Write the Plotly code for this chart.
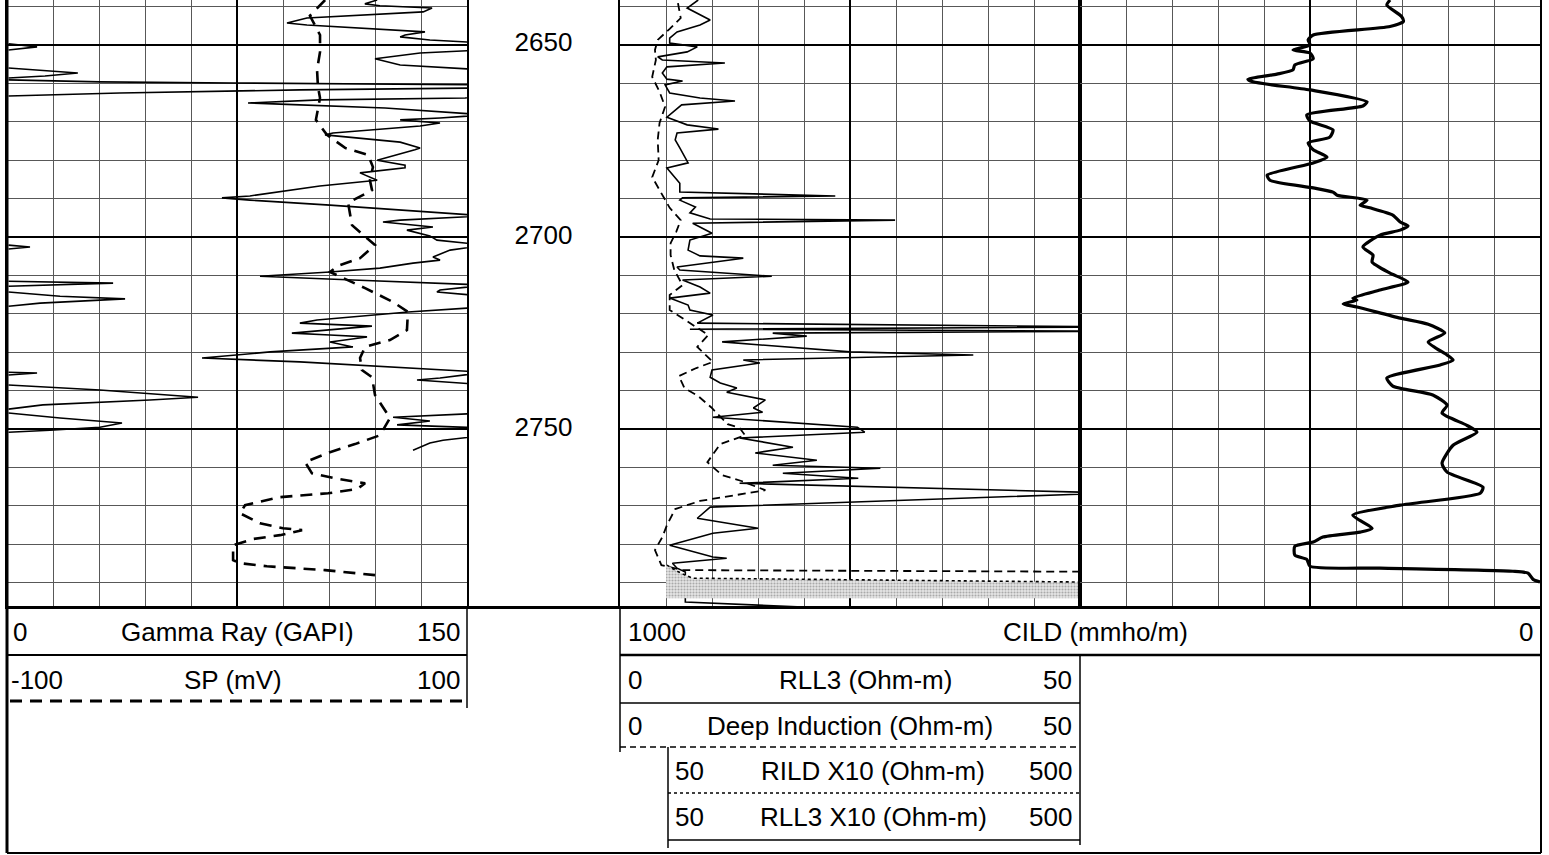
import plotly.graph_objects as go

W, H = 1549, 855


def px(x):
    return x / W


def py(y):
    return 1 - y / H


# ---------------- data (depth in ft, values in curve units) ----------------
depth_labels = [2650, 2700, 2750]

gr_depth = [2638.3, 2639.3, 2639.8, 2640.4, 2641.4, 2643.0, 2644.3, 2644.8, 2646.6, 2647.4,
            2647.9, 2648.7, 2649.5, 2651.3, 2652.1, 2653.6, 2655.2, 2656.5, 2663.0, 2663.8,
            2664.3, 2665.1, 2665.4, 2666.4, 2668.2, 2669.0, 2669.5, 2670.3, 2671.1, 2672.9,
            2673.4, 2675.3, 2676.8, 2677.3, 2680.0, 2681.3, 2682.0, 2683.3, 2685.2, 2686.7,
            2689.3, 2689.8, 2690.4, 2691.7, 2694.5, 2695.6, 2696.1, 2697.4, 2698.2, 2699.7,
            2700.8, 2702.1, 2703.4, 2705.2, 2706.0, 2706.8, 2708.1, 2709.1, 2710.2, 2710.7,
            2711.2, 2712.5, 2713.8, 2714.3, 2715.4, 2718.2, 2719.5, 2721.6, 2722.4, 2723.2,
            2724.2, 2725.0, 2725.5, 2726.0, 2727.3, 2728.6, 2729.9, 2731.5, 2732.5, 2735.2,
            2736.7, 2737.2, 2738.0, 2738.5, 2745.8, 2746.9, 2747.9, 2748.9, 2749.7, 2751.6,
            2752.9, 2753.6, 2755.5]
gr_value = [120.7, 116.7, 121.6, 138.6, 135.7, 97.8, 91.3, 97.8, 136.3, 129.8,
            128.2, 137.9, 156, 156, 134.7, 120.0, 128.2, 156, 156, 149.4,
            102.0, 78.6, 89.0, 123.3, 156, 141.2, 128.2, 141.2, 134.7, 106.3,
            103.7, 128.2, 134.7, 133.0, 120.7, 129.8, 129.8, 115.1, 120.7, 102.0,
            79.2, 70.1, 79.2, 105.3, 156, 128.2, 122.6, 138.9, 130.4, 137.9,
            140.2, 156, 144.5, 138.9, 141.2, 132.4, 121.6, 105.3, 82.5, 95.5,
            112.8, 156, 141.2, 140.2, 156, 156, 130.8, 101.1, 95.5, 119.0,
            105.3, 92.9, 105.3, 117.4, 105.3, 112.8, 85.8, 63.6, 95.5, 156,
            141.2, 133.7, 147.7, 156, 156, 125.9, 137.9, 127.2, 156, 156,
            142.2, 137.9, 132.4]

# Gamma ray backup (wrapped) segments
grw_depth = [2649.7, 2650.5, 2651.3, None,
             2656.0, 2656.8, 2657.3, 2658.1, 2658.6, None,
             2659.1, 2659.6, 2659.9, 2660.4, 2661.2, 2661.7, 2662.5, 2663.3, None,
             2702.1, 2702.6, 2703.1, None,
             2711.5, 2712.0, 2712.8, None,
             2714.3, 2715.4, 2716.1, 2717.2, 2718.0, None,
             2735.2, 2735.4, 2735.9, None,
             2738.5, 2739.8, 2741.7, 2742.4, 2743.7, 2744.8, None,
             2745.8, 2747.1, 2748.4, 2749.5, 2750.3, 2750.8]
grw_value = [0.5, 9.8, 0.5, None,
             0.5, 14.0, 23.1, 12.4, 0.5, None,
             0.5, 30.3, 73.7, 156, 156, 95.5, 36.8, 0.5, None,
             0.5, 7.5, 0.5, None,
             0.5, 34.6, 0.5, None,
             0.5, 17.3, 38.5, 10.8, 0.5, None,
             0.5, 9.8, 0.5, None,
             0.5, 30.3, 62.3, 46.6, 11.7, 0.5, None,
             0.5, 17.3, 37.5, 30.3, 14.0, 0.5]

sp_depth = [2638.3, 2642.4, 2647.4, 2651.8, 2656.5, 2660.9, 2663.8, 2669.5, 2673.4, 2676.8,
            2678.6, 2681.8, 2685.2, 2687.8, 2691.1, 2696.9, 2702.1, 2705.5, 2707.5, 2709.1,
            2713.3, 2715.9, 2716.9, 2719.5, 2724.2, 2726.8, 2728.6, 2731.5, 2734.6, 2736.5,
            2741.1, 2747.1, 2751.6, 2753.9, 2756.0, 2758.6, 2761.5, 2762.8, 2764.1, 2765.6,
            2766.7, 2767.7, 2769.8, 2771.9, 2774.5, 2775.8, 2776.3, 2777.6, 2778.6, 2780.2,
            2784.1, 2784.9, 2785.7, 2786.7, 2788.0]
sp_value = [38.3, 31.7, 36.1, 36.1, 34.8, 35.2, 36.1, 34.3, 39.1, 47.0,
            57.0, 59.1, 57.8, 58.7, 48.3, 50.0, 60.0, 53.5, 43.9, 40.4,
            55.7, 64.3, 67.8, 74.3, 73.9, 66.5, 55.7, 53.5, 54.3, 58.7,
            60.0, 66.5, 62.2, 51.3, 40.4, 29.6, 32.6, 42.6, 55.7, 52.2,
            39.6, 18.7, 3.5, 1.3, 10.0, 20.0, 28.3, 18.7, 7.0, -1.7,
            -1.7, 1.3, 13.0, 38.3, 60.0]

rll3_depth = [2638.3, 2640.4, 2643.5, 2644.8, 2646.6, 2648.2, 2649.5, 2650.5, 2651.8, 2653.1,
              2653.9, 2654.7, 2655.7, 2657.3, 2658.9, 2659.4, 2660.4, 2662.5, 2663.8, 2664.6,
              2665.6, 2668.8, 2670.8, 2671.9, 2672.9, 2674.7, 2676.8, 2680.7, 2682.0, 2686.0,
              2688.3, 2689.3, 2689.8, 2690.4, 2692.2, 2693.7, 2695.3, 2695.6, 2696.4, 2699.0,
              2700.8, 2703.4, 2704.9, 2705.5, 2707.8, 2708.6, 2710.2, 2711.2, 2713.0, 2714.6,
              2715.9, 2717.7, 2719.0, 2720.3, 2722.4, 2723.4, 2724.0, 2724.5, 2725.0, 2725.8,
              2727.3, 2729.9, 2730.7, 2732.0, 2732.8, 2734.6, 2736.5, 2738.0, 2739.3, 2740.4,
              2742.4, 2744.5, 2745.6, 2746.9, 2749.5, 2750.8, 2752.3, 2754.7, 2756.2, 2758.1,
              2759.4, 2760.2, 2761.5, 2762.8, 2764.1, 2766.7, 2767.0, 2770.3, 2773.2, 2775.8,
              2777.1, 2780.2, 2783.3, 2783.6, 2784.9, 2786.2, 2787.2, 2795.0, 2796.3]
rll3_value = [8.5, 7.3, 9.8, 8.7, 6.2, 5.4, 5.4, 8.4, 7.3, 4.1,
              4.6, 11.4, 5.1, 4.6, 5.1, 6.8, 4.9, 5.4, 8.7, 12.5,
              6.7, 5.1, 7.3, 10.7, 6.2, 6.0, 6.5, 7.4, 5.1, 6.5,
              6.5, 23.4, 6.8, 6.5, 8.2, 7.6, 9.8, 29.9, 7.9, 10.0,
              7.6, 7.4, 8.7, 13.4, 6.2, 6.5, 16.5, 6.8, 8.7, 9.8,
              5.4, 7.4, 7.6, 10.1, 8.4, 55, 7.6, 55, 16.6, 20.3,
              11.1, 25.0, 38.4, 13.4, 15.2, 10.0, 9.8, 10.9, 12.7, 11.6,
              15.8, 14.5, 15.5, 10.1, 25.8, 26.6, 13.0, 18.8, 14.7, 21.4,
              16.6, 28.3, 17.7, 25.9, 13.0, 55, 49.0, 9.8, 8.4, 15.0,
              10.1, 5.4, 10.1, 11.6, 5.7, 6.2, 7.1, 7.1, 19.9]

ild_depth = [2639.1, 2643.0, 2645.8, 2648.7, 2651.3, 2653.9, 2658.3, 2662.2, 2666.1, 2670.3,
             2674.7, 2680.0, 2684.4, 2689.3, 2692.4, 2695.6, 2698.7, 2701.6, 2704.7, 2708.6,
             2712.5, 2715.1, 2719.0, 2721.6, 2725.5, 2728.6, 2732.5, 2734.1, 2736.2, 2739.3,
             2741.4, 2744.3, 2748.7, 2749.7, 2751.6, 2753.9, 2758.6, 2762.0, 2763.5, 2765.9,
             2767.2, 2768.7, 2770.8, 2775.0, 2778.1, 2781.5, 2785.4, 2786.7, 2787.2, 2794.5]
ild_value = [6.3, 6.6, 5.4, 4.1, 3.8, 3.9, 3.5, 4.3, 4.9, 4.3,
             4.1, 4.2, 3.5, 4.7, 5.4, 6.6, 6.1, 5.5, 5.5, 5.9,
             6.8, 5.4, 5.4, 7.1, 9.6, 8.4, 10.1, 8.3, 6.4, 7.0,
             8.5, 9.9, 11.7, 13.0, 13.6, 10.9, 9.5, 11.1, 13.2, 15.8,
             12.7, 8.7, 6.0, 5.1, 4.6, 3.8, 4.5, 6.8, 60, 60]

rildx10_depth = [2785.4, 2786.7, 2788.0, 2788.8, 2789.8, 2790.0, 2794.0]
rildx10_value = [51, 60, 70.7, 79.3, 500, 560, 560]
x10_base_depth = [2785.4, 2794.0]
x10_base_value = [50, 50]

cild_depth = [2638.3, 2639.6, 2642.6, 2643.9, 2645.2, 2647.4, 2648.7, 2650.0, 2651.3, 2652.1,
              2653.6, 2655.2, 2656.5, 2657.6, 2658.9, 2659.6, 2661.7, 2664.8, 2665.9, 2668.2,
              2669.8, 2672.1, 2674.0, 2675.5, 2677.3, 2679.2, 2680.7, 2683.9, 2685.2, 2687.2,
              2688.3, 2689.1, 2690.4, 2691.7, 2692.4, 2694.3, 2696.1, 2697.1, 2698.2, 2699.5,
              2702.6, 2704.7, 2706.5, 2709.4, 2711.7, 2713.8, 2715.9, 2716.4, 2717.4, 2718.2,
              2721.1, 2722.7, 2725.0, 2727.3, 2730.7, 2732.0, 2733.3, 2736.7, 2738.8, 2741.1,
              2743.75, 2745.8, 2749.0, 2750.8, 2754.2, 2758.9, 2761.2, 2765.1, 2766.7, 2769.8,
              2772.4, 2775.8, 2776.8, 2778.1, 2779.4, 2780.5, 2782.8, 2783.9, 2785.7, 2786.2,
              2787.0, 2787.5, 2789.1, 2789.8]
cild_value = [326, 333, 301, 297, 326, 493, 504, 500, 537, 500,
              493, 533, 537, 572, 635, 624, 500, 376, 385, 507,
              500, 450, 457, 504, 493, 463, 493, 593, 587, 493,
              450, 441, 376, 391, 370, 320, 304, 287, 304, 348,
              385, 363, 365, 326, 287, 348, 407, 398, 428, 398,
              304, 243, 207, 243, 202, 189, 217, 333, 320, 233,
              202, 213, 159, 137, 189, 213, 202, 124, 130, 304,
              407, 365, 391, 472, 493, 533, 533, 507, 500, 348,
              59, 26, 15, 0]

# ---------------- figure ----------------
FONT = "Liberation Sans, Arial, sans-serif"
FS = 26
TOP_D, BOT_D = 2638.3, 2796.3
YDOM = [py(607), 1]
MINOR_GRID = "#585858"

fig = go.Figure()

fig.add_trace(go.Scatter(x=gr_value, y=gr_depth, xaxis="x", yaxis="y", mode="lines",
                         line=dict(color="black", width=1.6), hoverinfo="skip"))
fig.add_trace(go.Scatter(x=grw_value, y=grw_depth, xaxis="x", yaxis="y", mode="lines",
                         connectgaps=False, line=dict(color="black", width=1.6), hoverinfo="skip"))
fig.add_trace(go.Scatter(x=sp_value, y=sp_depth, xaxis="x2", yaxis="y", mode="lines",
                         line=dict(color="black", width=2.6, dash="12px,8px"), hoverinfo="skip"))

fig.add_trace(go.Scatter(x=[0.5] * len(depth_labels), y=depth_labels,
                         text=[str(d) for d in depth_labels], mode="text",
                         textfont=dict(family=FONT, size=FS, color="black"),
                         xaxis="x3", yaxis="y3", cliponaxis=False, hoverinfo="skip"))

fig.add_trace(go.Scatter(x=x10_base_value, y=x10_base_depth, xaxis="x5", yaxis="y4", mode="lines",
                         line=dict(color="rgba(0,0,0,0)", width=0), hoverinfo="skip"))
fig.add_trace(go.Scatter(x=rildx10_value, y=rildx10_depth, xaxis="x5", yaxis="y4", mode="lines",
                         fill="tonextx", fillcolor="#dcdcdc",
                         fillpattern=dict(shape=".", fgcolor="#6e6e6e", bgcolor="#e6e6e6",
                                          size=3, solidity=0.4),
                         line=dict(color="black", width=1.6, dash="dot"), hoverinfo="skip"))
fig.add_trace(go.Scatter(x=ild_value, y=ild_depth, xaxis="x4", yaxis="y4", mode="lines",
                         line=dict(color="black", width=1.8, dash="8px,5px"), hoverinfo="skip"))
fig.add_trace(go.Scatter(x=rll3_value, y=rll3_depth, xaxis="x4", yaxis="y4", mode="lines",
                         line=dict(color="black", width=1.6), hoverinfo="skip"))

fig.add_trace(go.Scatter(x=cild_value, y=cild_depth, xaxis="x6", yaxis="y6", mode="lines",
                         line=dict(color="black", width=3.2, shape="spline", smoothing=0.6),
                         hoverinfo="skip"))


def track_x(domain, rng, dtick, minor):
    return dict(domain=domain, range=rng, tick0=0, dtick=dtick, showgrid=True,
                gridcolor="black", gridwidth=2,
                minor=dict(tick0=0, dtick=minor, showgrid=True, gridcolor=MINOR_GRID, gridwidth=1),
                showline=True, linecolor="black", linewidth=2, showticklabels=False,
                ticks="", zeroline=False, fixedrange=True)


def track_y(anchor):
    return dict(domain=YDOM, range=[BOT_D, TOP_D], anchor=anchor, tick0=0, dtick=50,
                showgrid=True, gridcolor="black", gridwidth=2,
                minor=dict(tick0=0, dtick=10, showgrid=True, gridcolor=MINOR_GRID, gridwidth=1),
                showline=True, mirror=True, linecolor="black", linewidth=2,
                showticklabels=False, ticks="", zeroline=False, fixedrange=True)


layout = dict(
    width=W, height=H, margin=dict(l=0, r=0, t=0, b=0),
    paper_bgcolor="white", plot_bgcolor="rgba(0,0,0,0)", showlegend=False,
    xaxis=dict(track_x([px(7), px(467)], [0, 150], 75, 15), anchor="y"),
    xaxis2=dict(overlaying="x", range=[-100, 100], visible=False, anchor="y"),
    xaxis3=dict(domain=[px(467), px(620)], range=[0, 1], anchor="y3", showgrid=False,
                showline=True, linecolor="black", linewidth=2, showticklabels=False,
                ticks="", zeroline=False),
    xaxis4=dict(track_x([px(620), px(1080)], [0, 50], 25, 5), anchor="y4"),
    xaxis5=dict(overlaying="x4", range=[0, 500], visible=False, anchor="y4"),
    xaxis6=dict(track_x([px(1080), px(1540)], [1000, 0], 500, 100), anchor="y6"),
    yaxis=track_y("x"),
    yaxis3=dict(domain=YDOM, range=[BOT_D, TOP_D], anchor="x3", visible=False),
    yaxis4=track_y("x4"),
    yaxis6=track_y("x6"),
)
fig.update_layout(**layout)

# ---------------- header (legend block) ----------------
shapes = []


def hline(x0, x1, y, width=2, dash="solid"):
    shapes.append(dict(type="line", xref="paper", yref="paper", x0=px(x0), x1=px(x1),
                       y0=py(y), y1=py(y), line=dict(color="black", width=width, dash=dash)))


def vline(x, y0, y1, width=2):
    shapes.append(dict(type="line", xref="paper", yref="paper", x0=px(x), x1=px(x),
                       y0=py(y0), y1=py(y1), line=dict(color="black", width=width)))


hline(7, 1541, 607, 2)
hline(7, 467, 655, 2)
hline(620, 1541, 655, 2.5)
vline(467, 607, 708, 1.5)
hline(10, 467, 701, 3, "12px,8px")
hline(620, 1080, 703, 1.5)
vline(620, 607, 752, 1.5)
vline(1080, 655, 845, 1.5)
hline(620, 1080, 747, 1.5, "6px,4px")
vline(668, 747, 848, 1.5)
hline(668, 1080, 793, 1.5, "dot")
hline(668, 1080, 840, 1.5)
vline(7, 0, 853, 3)
vline(1541, 0, 853, 2)
hline(7, 1541, 853, 2)

annotations = []


def label(text, x, y, anchor):
    annotations.append(dict(text=text, x=px(x), y=py(y), xref="paper", yref="paper",
                            xanchor=anchor, yanchor="middle", showarrow=False,
                            font=dict(family=FONT, size=FS, color="black")))


label("0", 11, 632, "left")
label("Gamma Ray (GAPI)", 237, 632, "center")
label("150", 462, 632, "right")
label("-100", 9, 680, "left")
label("SP (mV)", 233, 680, "center")
label("100", 462, 680, "right")
label("1000", 626, 632, "left")
label("CILD (mmho/m)", 1095, 632, "center")
label("0", 1535, 632, "right")
label("0", 626, 680, "left")
label("RLL3 (Ohm-m)", 865, 680, "center")
label("50", 1074, 680, "right")
label("0", 626, 726, "left")
label("Deep Induction (Ohm-m)", 850, 726, "center")
label("50", 1074, 726, "right")
label("50", 673, 771, "left")
label("RILD X10 (Ohm-m)", 873, 771, "center")
label("500", 1074, 771, "right")
label("50", 673, 817, "left")
label("RLL3 X10 (Ohm-m)", 873, 817, "center")
label("500", 1074, 817, "right")

fig.update_layout(shapes=shapes, annotations=annotations)

fig.write_html("out.html",
               config={"displayModeBar": False, "staticPlot": True},
               post_script="document.body.style.margin='0px';document.body.style.overflow='hidden';")
